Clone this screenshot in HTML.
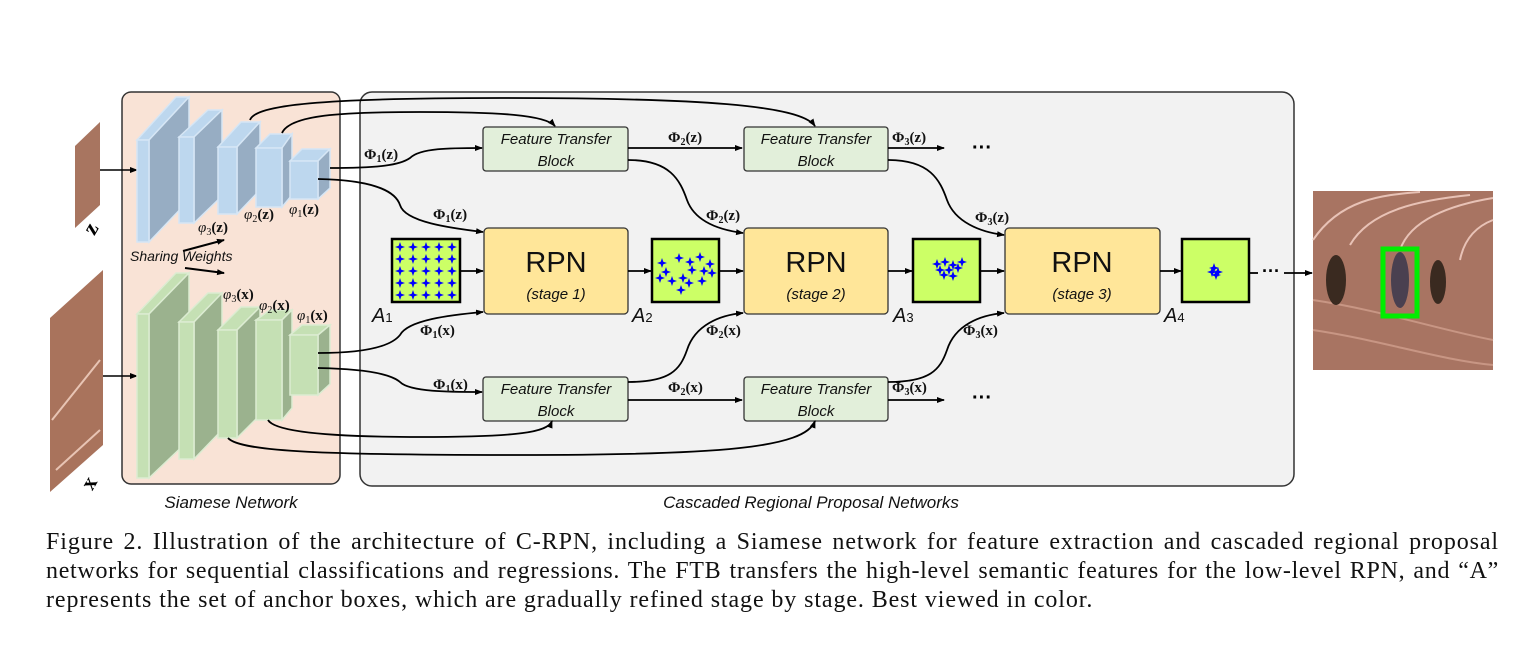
<!DOCTYPE html>
<html><head><meta charset="utf-8">
<style>
body{margin:0;background:#fff;width:1535px;height:646px;overflow:hidden;position:relative;font-family:"Liberation Sans",sans-serif}
.cap{position:absolute;left:46px;width:1453px;font-family:"Liberation Serif",serif;font-size:24px;letter-spacing:0.9px;color:#111;text-align:justify;text-align-last:justify;white-space:nowrap;line-height:28px}
.cap.last{text-align-last:left}
</style></head><body>
<svg width="1535" height="646" style="position:absolute;left:0;top:0" font-family="Liberation Sans, sans-serif">
<defs>
<marker id="ar" markerWidth="8" markerHeight="8" refX="7" refY="4" orient="auto" markerUnits="userSpaceOnUse"><path d="M0,1 L8,4 L0,7 Z" fill="#000"/></marker>
<path id="st" d="M0,-5 L1.3,-1.3 L5,0 L1.3,1.3 L0,5 L-1.3,1.3 L-5,0 L-1.3,-1.3Z" fill="#0000ff"/>
</defs>
<rect x="122" y="92" width="218" height="392" rx="9" fill="#f9e3d6" stroke="#333" stroke-width="1.5"/>
<rect x="360" y="92" width="934" height="394" rx="12" fill="#f2f2f2" stroke="#333" stroke-width="1.5"/>
<polygon points="75,146 100,122 100,205 75,228" fill="#a87560"/>
<polygon points="50,318 103,270 103,445 50,492" fill="#a9735c"/>
<line x1="56" y1="470" x2="100" y2="430" stroke="#e8c4b4" stroke-width="2"/>
<line x1="52" y1="420" x2="100" y2="360" stroke="#e8c4b4" stroke-width="2"/>
<text x="86" y="234" font-family="Liberation Serif, serif" font-weight="bold" font-size="22" transform="rotate(-60 92 228)">z</text>
<text x="84" y="489" font-family="Liberation Serif, serif" font-weight="bold" font-size="22" transform="rotate(-60 90 483)">x</text>
<line x1="100" y1="170" x2="137" y2="170" stroke="#000" stroke-width="1.5" marker-end="url(#ar)"/>
<line x1="103" y1="376" x2="137" y2="376" stroke="#000" stroke-width="1.5" marker-end="url(#ar)"/>
<g stroke="#d6e6f5" stroke-width="1.5">
<polygon points="137,140 176,97 189,97 149,140" fill="#bdd7ee"/><polygon points="149,140 189,97 189,200 149,242" fill="#97adc3"/><rect x="137" y="140" width="12" height="102" fill="#bdd7ee"/>
<polygon points="179,137 208,110 222,110 194,137" fill="#bdd7ee"/><polygon points="194,137 222,110 222,196 194,223" fill="#97adc3"/><rect x="179" y="137" width="15" height="86" fill="#bdd7ee"/>
<polygon points="218,147 241,122 260,122 237,147" fill="#bdd7ee"/><polygon points="237,147 260,122 260,190 237,214" fill="#97adc3"/><rect x="218" y="147" width="19" height="67" fill="#bdd7ee"/>
<polygon points="256,148 270,134 292,134 282,148" fill="#bdd7ee"/><polygon points="282,148 292,134 292,195 282,207" fill="#97adc3"/><rect x="256" y="148" width="26" height="59" fill="#bdd7ee"/>
<polygon points="290,161 302,149 330,149 318,161" fill="#bdd7ee"/><polygon points="318,161 330,149 330,188 318,199" fill="#97adc3"/><rect x="290" y="161" width="28" height="38" fill="#bdd7ee"/>
</g>
<g stroke="#dcecd2" stroke-width="1.5">
<polygon points="137,314 176,273 189,273 149,314" fill="#c5e0b4"/><polygon points="149,314 189,273 189,440 149,478" fill="#9bb28e"/><rect x="137" y="314" width="12" height="164" fill="#c5e0b4"/>
<polygon points="179,322 208,293 222,293 194,322" fill="#c5e0b4"/><polygon points="194,322 222,293 222,430 194,459" fill="#9bb28e"/><rect x="179" y="322" width="15" height="137" fill="#c5e0b4"/>
<polygon points="218,330 241,307 260,307 237,330" fill="#c5e0b4"/><polygon points="237,330 260,307 260,415 237,438" fill="#9bb28e"/><rect x="218" y="330" width="19" height="108" fill="#c5e0b4"/>
<polygon points="256,320 270,310 292,310 282,320" fill="#c5e0b4"/><polygon points="282,320 292,310 292,408 282,420" fill="#9bb28e"/><rect x="256" y="320" width="26" height="100" fill="#c5e0b4"/>
<polygon points="290,335 302,325 330,325 318,335" fill="#c5e0b4"/><polygon points="318,335 330,325 330,384 318,395" fill="#9bb28e"/><rect x="290" y="335" width="28" height="60" fill="#c5e0b4"/>
</g>
<g font-family="Liberation Serif, serif" font-size="15" fill="#111">
<text x="198" y="232"><tspan font-style="italic">φ</tspan><tspan font-size="10" dy="3">3</tspan><tspan dy="-3" font-weight="bold">(z)</tspan></text>
<text x="244" y="219"><tspan font-style="italic">φ</tspan><tspan font-size="10" dy="3">2</tspan><tspan dy="-3" font-weight="bold">(z)</tspan></text>
<text x="289" y="214"><tspan font-style="italic">φ</tspan><tspan font-size="10" dy="3">1</tspan><tspan dy="-3" font-weight="bold">(z)</tspan></text>
<text x="223" y="299"><tspan font-style="italic">φ</tspan><tspan font-size="10" dy="3">3</tspan><tspan dy="-3" font-weight="bold">(x)</tspan></text>
<text x="259" y="310"><tspan font-style="italic">φ</tspan><tspan font-size="10" dy="3">2</tspan><tspan dy="-3" font-weight="bold">(x)</tspan></text>
<text x="297" y="320"><tspan font-style="italic">φ</tspan><tspan font-size="10" dy="3">1</tspan><tspan dy="-3" font-weight="bold">(x)</tspan></text>
</g>
<text x="130" y="261" font-style="italic" font-size="14" fill="#111">Sharing Weights</text>
<line x1="183" y1="251" x2="224" y2="240" stroke="#000" stroke-width="2" marker-end="url(#ar)"/>
<line x1="185" y1="268" x2="224" y2="273" stroke="#000" stroke-width="2" marker-end="url(#ar)"/>
<g fill="#e2efda" stroke="#333" stroke-width="1.3">
<rect x="483" y="127" width="145" height="44" rx="3"/><rect x="744" y="127" width="144" height="44" rx="3"/>
<rect x="483" y="377" width="145" height="44" rx="3"/><rect x="744" y="377" width="144" height="44" rx="3"/>
</g>
<g font-style="italic" font-size="15" text-anchor="middle" fill="#111">
<text x="556" y="144">Feature Transfer</text><text x="556" y="166">Block</text>
<text x="816" y="144">Feature Transfer</text><text x="816" y="166">Block</text>
<text x="556" y="394">Feature Transfer</text><text x="556" y="416">Block</text>
<text x="816" y="394">Feature Transfer</text><text x="816" y="416">Block</text>
</g>
<g fill="#ffe699" stroke="#333" stroke-width="1.3">
<rect x="484" y="228" width="144" height="86" rx="4"/><rect x="744" y="228" width="144" height="86" rx="4"/><rect x="1005" y="228" width="155" height="86" rx="4"/>
</g>
<g text-anchor="middle" fill="#111">
<text x="556" y="272" font-size="29">RPN</text><text x="556" y="299" font-style="italic" font-size="15">(stage 1)</text>
<text x="816" y="272" font-size="29">RPN</text><text x="816" y="299" font-style="italic" font-size="15">(stage 2)</text>
<text x="1082" y="272" font-size="29">RPN</text><text x="1082" y="299" font-style="italic" font-size="15">(stage 3)</text>
</g>
<g fill="#ccff66" stroke="#000" stroke-width="2.5">
<rect x="392" y="239" width="68" height="63"/><rect x="652" y="239" width="67" height="63"/><rect x="913" y="239" width="67" height="63"/><rect x="1182" y="239" width="67" height="63"/>
</g>
<g>
<use href="#st" x="400" y="247"/><use href="#st" x="413" y="247"/><use href="#st" x="426" y="247"/><use href="#st" x="439" y="247"/><use href="#st" x="452" y="247"/>
<use href="#st" x="400" y="259"/><use href="#st" x="413" y="259"/><use href="#st" x="426" y="259"/><use href="#st" x="439" y="259"/><use href="#st" x="452" y="259"/>
<use href="#st" x="400" y="271"/><use href="#st" x="413" y="271"/><use href="#st" x="426" y="271"/><use href="#st" x="439" y="271"/><use href="#st" x="452" y="271"/>
<use href="#st" x="400" y="283"/><use href="#st" x="413" y="283"/><use href="#st" x="426" y="283"/><use href="#st" x="439" y="283"/><use href="#st" x="452" y="283"/>
<use href="#st" x="400" y="295"/><use href="#st" x="413" y="295"/><use href="#st" x="426" y="295"/><use href="#st" x="439" y="295"/><use href="#st" x="452" y="295"/>
<use href="#st" x="662" y="263"/><use href="#st" x="679" y="258"/><use href="#st" x="690" y="262"/><use href="#st" x="700" y="257"/><use href="#st" x="710" y="264"/>
<use href="#st" x="666" y="272"/><use href="#st" x="692" y="270"/><use href="#st" x="704" y="271"/><use href="#st" x="712" y="273"/>
<use href="#st" x="660" y="278"/><use href="#st" x="672" y="281"/><use href="#st" x="683" y="278"/><use href="#st" x="689" y="283"/><use href="#st" x="702" y="281"/><use href="#st" x="681" y="290"/>
<use href="#st" x="937" y="264"/><use href="#st" x="945" y="262"/><use href="#st" x="953" y="265"/><use href="#st" x="940" y="270"/><use href="#st" x="949" y="270"/><use href="#st" x="958" y="268"/><use href="#st" x="962" y="262"/><use href="#st" x="944" y="275"/><use href="#st" x="953" y="276"/>
<use href="#st" x="1214" y="268"/><use href="#st" x="1218" y="272"/><use href="#st" x="1216" y="275"/><use href="#st" x="1212" y="272"/>
</g>
<g font-size="20" font-style="italic" fill="#111">
<text x="372" y="322">A<tspan font-size="13" font-style="normal">1</tspan></text>
<text x="632" y="322">A<tspan font-size="13" font-style="normal">2</tspan></text>
<text x="893" y="322">A<tspan font-size="13" font-style="normal">3</tspan></text>
<text x="1164" y="322">A<tspan font-size="13" font-style="normal">4</tspan></text>
</g>
<g stroke="#000" stroke-width="1.8" fill="none" marker-end="url(#ar)">
<line x1="460" y1="271" x2="483" y2="271"/><line x1="628" y1="271" x2="651" y2="271"/><line x1="719" y1="271" x2="743" y2="271"/>
<line x1="888" y1="271" x2="912" y2="271"/><line x1="980" y1="271" x2="1004" y2="271"/><line x1="1160" y1="271" x2="1181" y2="271"/>
<line x1="1284" y1="273" x2="1312" y2="273"/>
<line x1="628" y1="148" x2="742" y2="148"/><line x1="888" y1="148" x2="944" y2="148"/>
<line x1="628" y1="400" x2="742" y2="400"/><line x1="888" y1="400" x2="944" y2="400"/>
</g>
<line x1="1250" y1="273" x2="1258" y2="273" stroke="#000" stroke-width="1.8"/>
<text x="1262" y="277" font-size="18" font-weight="bold">···</text>
<text x="972" y="154" font-size="20" font-weight="bold">···</text>
<text x="972" y="404" font-size="20" font-weight="bold">···</text>
<g stroke="#000" stroke-width="1.8" fill="none" marker-end="url(#ar)">
<path d="M330,168 C380,168 400,165 410,158 C420,148 450,148 482,148"/>
<path d="M318,179 C370,180 395,190 400,205 C405,222 450,228 483,232"/>
<path d="M628,160 C670,160 680,180 687,200 C695,222 720,230 743,233"/>
<path d="M888,160 C930,160 940,180 947,200 C955,222 980,232 1004,235"/>
<path d="M282,133 C290,115 340,112 420,112 C500,112 545,115 555,126"/>
<path d="M250,120 C255,105 320,98 500,98 C700,98 800,105 815,126"/>
<path d="M318,353 C370,353 392,345 400,335 C408,320 450,315 483,312"/>
<path d="M318,368 C370,369 392,375 400,382 C410,392 450,392 482,392"/>
<path d="M628,382 C670,382 680,370 687,350 C695,325 720,315 743,313"/>
<path d="M888,382 C930,382 940,370 947,350 C955,325 980,315 1004,313"/>
<path d="M268,420 C275,432 330,437 420,437 C520,437 548,432 552,421"/>
<path d="M228,438 C240,452 330,455 520,455 C720,455 805,448 815,421"/>
</g>
<g font-family="Liberation Serif, serif" font-size="15" font-weight="bold" fill="#111">
<text x="364" y="159">Φ<tspan font-size="10" dy="3">1</tspan><tspan dy="-3">(z)</tspan></text>
<text x="433" y="219">Φ<tspan font-size="10" dy="3">1</tspan><tspan dy="-3">(z)</tspan></text>
<text x="668" y="142">Φ<tspan font-size="10" dy="3">2</tspan><tspan dy="-3">(z)</tspan></text>
<text x="706" y="220">Φ<tspan font-size="10" dy="3">2</tspan><tspan dy="-3">(z)</tspan></text>
<text x="892" y="142">Φ<tspan font-size="10" dy="3">3</tspan><tspan dy="-3">(z)</tspan></text>
<text x="975" y="222">Φ<tspan font-size="10" dy="3">3</tspan><tspan dy="-3">(z)</tspan></text>
<text x="420" y="335">Φ<tspan font-size="10" dy="3">1</tspan><tspan dy="-3">(x)</tspan></text>
<text x="433" y="389">Φ<tspan font-size="10" dy="3">1</tspan><tspan dy="-3">(x)</tspan></text>
<text x="706" y="335">Φ<tspan font-size="10" dy="3">2</tspan><tspan dy="-3">(x)</tspan></text>
<text x="668" y="392">Φ<tspan font-size="10" dy="3">2</tspan><tspan dy="-3">(x)</tspan></text>
<text x="963" y="335">Φ<tspan font-size="10" dy="3">3</tspan><tspan dy="-3">(x)</tspan></text>
<text x="892" y="392">Φ<tspan font-size="10" dy="3">3</tspan><tspan dy="-3">(x)</tspan></text>
</g>
<rect x="1313" y="191" width="180" height="179" fill="#a87462"/>
<path d="M1313,240 C1340,200 1380,195 1420,192 M1350,245 C1370,210 1420,200 1470,195 M1400,250 C1410,220 1450,205 1493,198 M1460,260 C1465,235 1480,225 1493,220" stroke="#e8c2b6" stroke-width="2" fill="none"/>
<path d="M1313,330 C1380,340 1440,360 1493,365 M1313,300 C1380,310 1440,330 1493,340" stroke="#c89684" stroke-width="2" fill="none"/>
<ellipse cx="1336" cy="280" rx="10" ry="25" fill="#3a2a20"/><ellipse cx="1438" cy="282" rx="8" ry="22" fill="#3a2a20"/>
<ellipse cx="1400" cy="280" rx="9" ry="28" fill="#4a4050"/>
<rect x="1383" y="249" width="34" height="67" fill="none" stroke="#00ee00" stroke-width="5"/>
<text x="231" y="508" text-anchor="middle" font-style="italic" font-size="17" fill="#111">Siamese Network</text>
<text x="811" y="508" text-anchor="middle" font-style="italic" font-size="17" fill="#111">Cascaded Regional Proposal Networks</text>
</svg>
<div class="cap" style="top:528px">Figure 2. Illustration of the architecture of C-RPN, including a Siamese network for feature extraction and cascaded regional proposal</div>
<div class="cap" style="top:557px;letter-spacing:0.7px">networks for sequential classifications and regressions. The FTB transfers the high-level semantic features for the low-level RPN, and “A”</div>
<div class="cap last" style="top:586px">represents the set of anchor boxes, which are gradually refined stage by stage. Best viewed in color.</div>
</body></html>
